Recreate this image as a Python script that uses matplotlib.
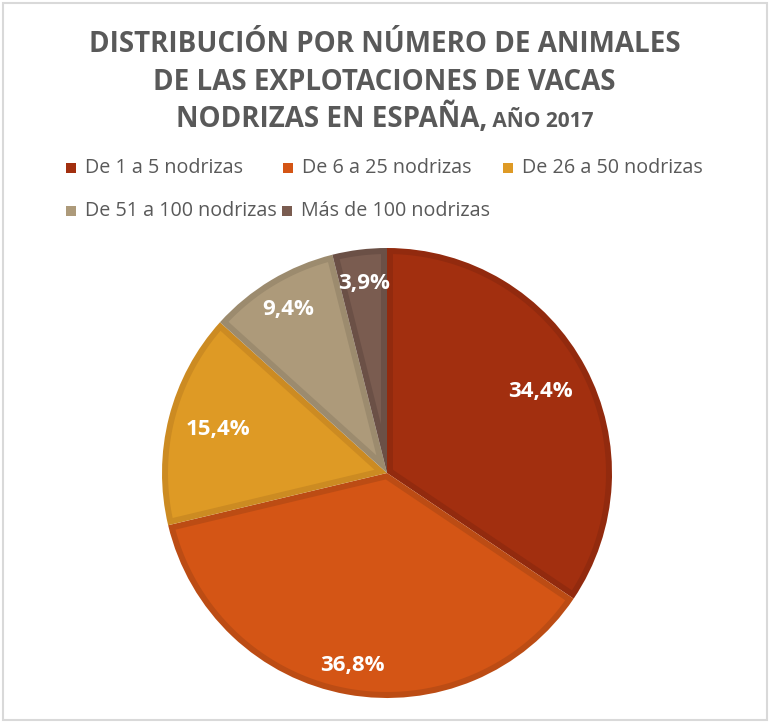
import numpy as np
import matplotlib
matplotlib.use("Agg")
import matplotlib.pyplot as plt
from matplotlib.patches import Rectangle

categorias = ["De 1 a 5 nodrizas", "De 6 a 25 nodrizas", "De 26 a 50 nodrizas",
              "De 51 a 100 nodrizas", "Más de 100 nodrizas"]
porcentajes = [34.4, 36.8, 15.4, 9.4, 3.9]
etiquetas = ["34,4%", "36,8%", "15,4%", "9,4%", "3,9%"]

colores = ["#A22F0F", "#D45515", "#DE9A25", "#AD9A7A", "#7A5C50"]
bordes = ["#922A0E", "#BC4C14", "#CC8B22", "#9C8B6E", "#6B5046"]
dist_etiqueta = [0.77, 0.87, 0.775, 0.85, 0.85]

W, H = 769, 722
gris = "#595959"
fuente = "Open Sans"


def px(x, y):
    # pixel (desde arriba-izquierda) a fraccion de figura
    return x / W, 1 - y / H


fig = plt.figure(figsize=(W / 100, H / 100), dpi=100)
fig.patch.set_facecolor("white")

# marco gris
fig.add_artist(Rectangle(px(3, 720), 764 / W, 717 / H, transform=fig.transFigure,
                         fill=False, edgecolor="#D9D9D9", linewidth=1.5))

# titulo
for linea, y in [("DISTRIBUCIÓN POR NÚMERO DE ANIMALES", 45),
                 ("DE LAS EXPLOTACIONES DE VACAS", 82)]:
    fig.text(*px(W / 2, y), linea, ha="center", va="center", fontsize=20,
             fontweight="bold", color=gris, family=fuente)

r = fig.canvas.get_renderer()
t1 = fig.text(0, 0, "NODRIZAS EN ESPAÑA,", fontsize=20, fontweight="bold",
              color=gris, family=fuente, va="baseline")
t2 = fig.text(0, 0, " AÑO 2017", fontsize=15, fontweight="bold",
              color=gris, family=fuente, va="baseline")
w1 = t1.get_window_extent(r).width
w2 = t2.get_window_extent(r).width
x0 = (W - w1 - w2) / 2
t1.set_position(px(x0, 127))
t2.set_position(px(x0 + w1, 127))

# leyenda (flujo como en Excel)
filas = [[(0, 66), (1, 283), (2, 503)], [(3, 66), (4, 282)]]
for fila, y in zip(filas, [168, 211]):
    for i, x in fila:
        fig.add_artist(Rectangle(px(x, y + 5), 10 / W, 10 / H,
                                 transform=fig.transFigure, facecolor=colores[i],
                                 edgecolor="none"))
        fig.text(*px(x + 19, y), categorias[i], ha="left", va="center",
                 fontsize=14.2, color=gris, family=fuente)

# tarta
ax = fig.add_axes([162 / W, (H - 698) / H, 450 / W, 450 / H])
cunas, _ = ax.pie(porcentajes, colors=bordes, startangle=90, counterclock=False,
                  radius=1, wedgeprops=dict(linewidth=0))

# relleno interior desplazado para simular el borde interno de Excel
d = 6 / 225
for c, col in zip(cunas, colores):
    t1r, t2r = np.deg2rad(c.theta1), np.deg2rad(c.theta2)
    mitad = (t2r - t1r) / 2
    bis = t1r + mitad
    ra = 1 - d
    delta = np.arcsin(d / ra)
    arco = np.linspace(t1r + delta, t2r - delta, 100)
    ap = d / np.sin(mitad)
    xs = np.concatenate([[ap * np.cos(bis)], ra * np.cos(arco)])
    ys = np.concatenate([[ap * np.sin(bis)], ra * np.sin(arco)])
    ax.fill(xs, ys, color=col, linewidth=0)

for c, txt, dd in zip(cunas, etiquetas, dist_etiqueta):
    ang = np.deg2rad((c.theta1 + c.theta2) / 2)
    ax.text(dd * np.cos(ang), dd * np.sin(ang), txt, ha="center", va="center",
            fontsize=16, fontweight="bold", color="white", family=fuente)

ax.set_xlim(-1, 1)
ax.set_ylim(-1, 1)
ax.set_aspect("equal")
ax.axis("off")

fig.savefig("out.png", dpi=100)
